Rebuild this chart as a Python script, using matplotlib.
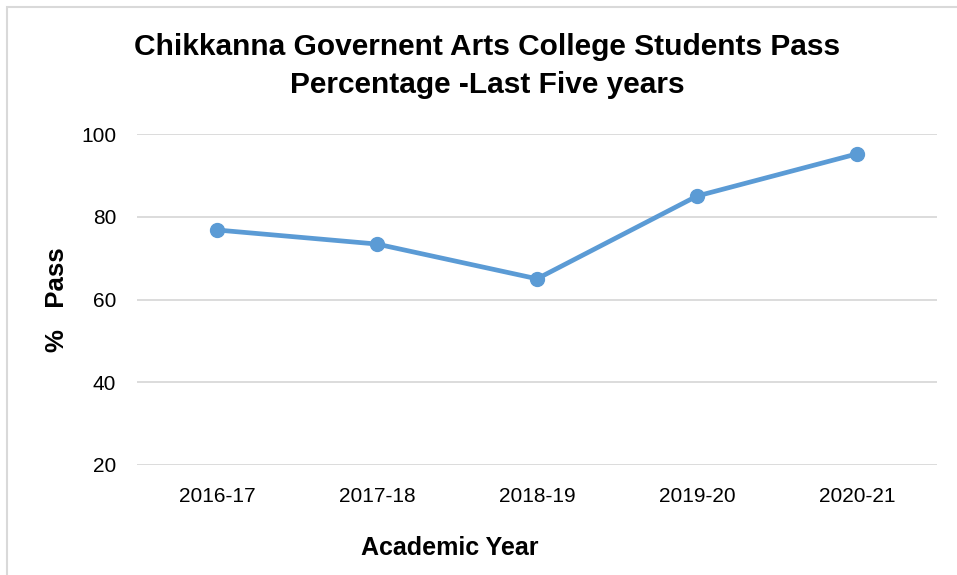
import matplotlib
matplotlib.use("Agg")
import matplotlib.pyplot as plt
from matplotlib.patches import Rectangle

plt.rcParams['font.family'] = ['Liberation Sans', 'DejaVu Sans']

years = ['2016-17', '2017-18', '2018-19', '2019-20', '2020-21']
pass_pct = [76.8, 73.4, 65.0, 85.0, 95.2]
yticks = [20, 40, 60, 80, 100]

fig = plt.figure(figsize=(9.57, 5.75), dpi=100)
fig.patches.append(Rectangle((7/957, -0.1), 1.2, 1 - 7/575 + 0.1, transform=fig.transFigure,
                             fill=False, edgecolor='#D9D9D9', linewidth=1.5))
ax = fig.add_axes([137/957, 1 - 465/575, 800/957, 331/575])
x = list(range(len(years)))
ax.plot(x, pass_pct, color='#5B9BD5', linewidth=3.4, marker='o', markersize=10, zorder=3)
ax.set_xlim(-0.5, len(years) - 0.5)
ax.set_ylim(20, 100)
ax.set_yticks(yticks)
ax.set_xticks(x)
ax.set_xticklabels(years)
ax.grid(axis='y', color='#D9D9D9', linewidth=1.3)
ax.set_axisbelow(True)
for s in ax.spines.values():
    s.set_visible(False)
ax.tick_params(axis='both', length=0, labelsize=15, colors='#000000')
ax.tick_params(axis='x', pad=16)
ax.tick_params(axis='y', pad=15)

fig.text(487/957, 1 - 47/575, 'Chikkanna Governent Arts College Students Pass', ha='center', va='center',
         fontsize=21.5, fontweight='bold')
fig.text(487/957, 1 - 85/575, 'Percentage -Last Five years', ha='center', va='center',
         fontsize=21.5, fontweight='bold')
fig.text(57/957, 1 - 300/575, '%   Pass', ha='center', va='center', rotation=90,
         fontsize=18.5, fontweight='bold')
fig.text(450/957, 1 - 548/575, 'Academic Year', ha='center', va='center',
         fontsize=18, fontweight='bold')

fig.savefig('out.png', dpi=100)
